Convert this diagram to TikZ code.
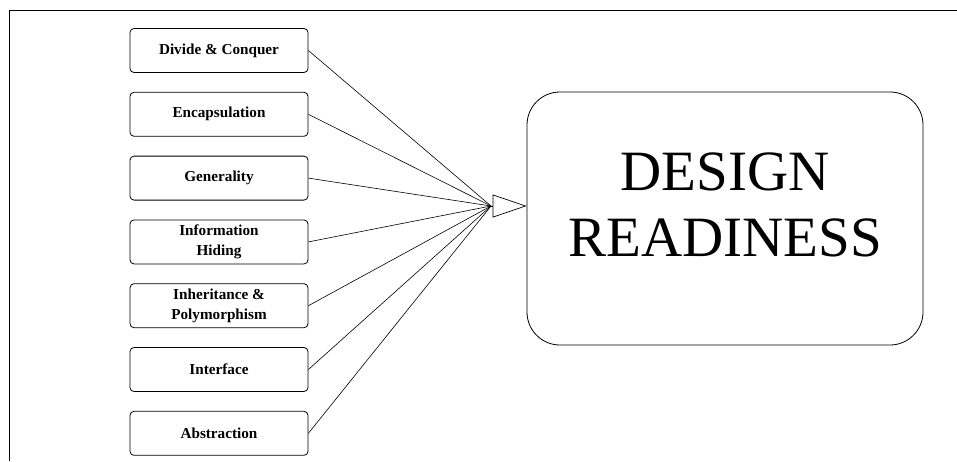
\documentclass[tikz,border=0pt]{standalone}
\usepackage{fontspec}
\setmainfont{Liberation Serif}
\usetikzlibrary{positioning,arrows.meta}

\begin{document}
\begin{tikzpicture}[x=1pt, y=-1pt,
    smallbox/.style={draw, line width=0.8pt, rounded corners=4pt, minimum width=178pt, minimum height=44pt, align=center, inner sep=1pt, font=\fontsize{15.2}{19.5}\selectfont\bfseries},
    bigbox/.style={draw, line width=0.8pt, rounded corners=33pt, minimum width=396pt, minimum height=253pt},
    bigtext/.style={align=center, inner sep=0pt, font=\fontsize{57}{66}\selectfont},
    link/.style={line width=0.6pt},
    arrow/.style={-{Triangle[open, length=34pt, width=23pt]}, line width=0.7pt},
]
\useasboundingbox (0,0) rectangle (957,461);
\draw[line width=0.9pt] (9,461) -- (9,10) -- (957,10);

\node[smallbox] (divide) at (219,50.5) {Divide \& Conquer};
\node[smallbox, below=19pt of divide] (encap) {Encapsulation};
\node[smallbox, below=19pt of encap] (general) {Generality};
\node[smallbox, below=19pt of general] (hiding) {Information\\Hiding};
\node[smallbox, below=19pt of hiding] (inherit) {Inheritance \&\\Polymorphism};
\node[smallbox, below=19pt of inherit] (iface) {Interface};
\node[smallbox, below=19pt of iface] (abstr) {Abstraction};

\node[bigbox] (ready) at (725,218.5) {};
\node[bigtext] (readytxt) at ([yshift=14pt]ready.center) {DESIGN\\READINESS};

\coordinate (hub) at (491,206);
\foreach \n in {divide,encap,general,hiding,inherit,iface,abstr}
  \draw[link] (\n.east) -- (hub);
\draw[arrow] (hub) -- (hub -| ready.west);
\end{tikzpicture}
\end{document}
